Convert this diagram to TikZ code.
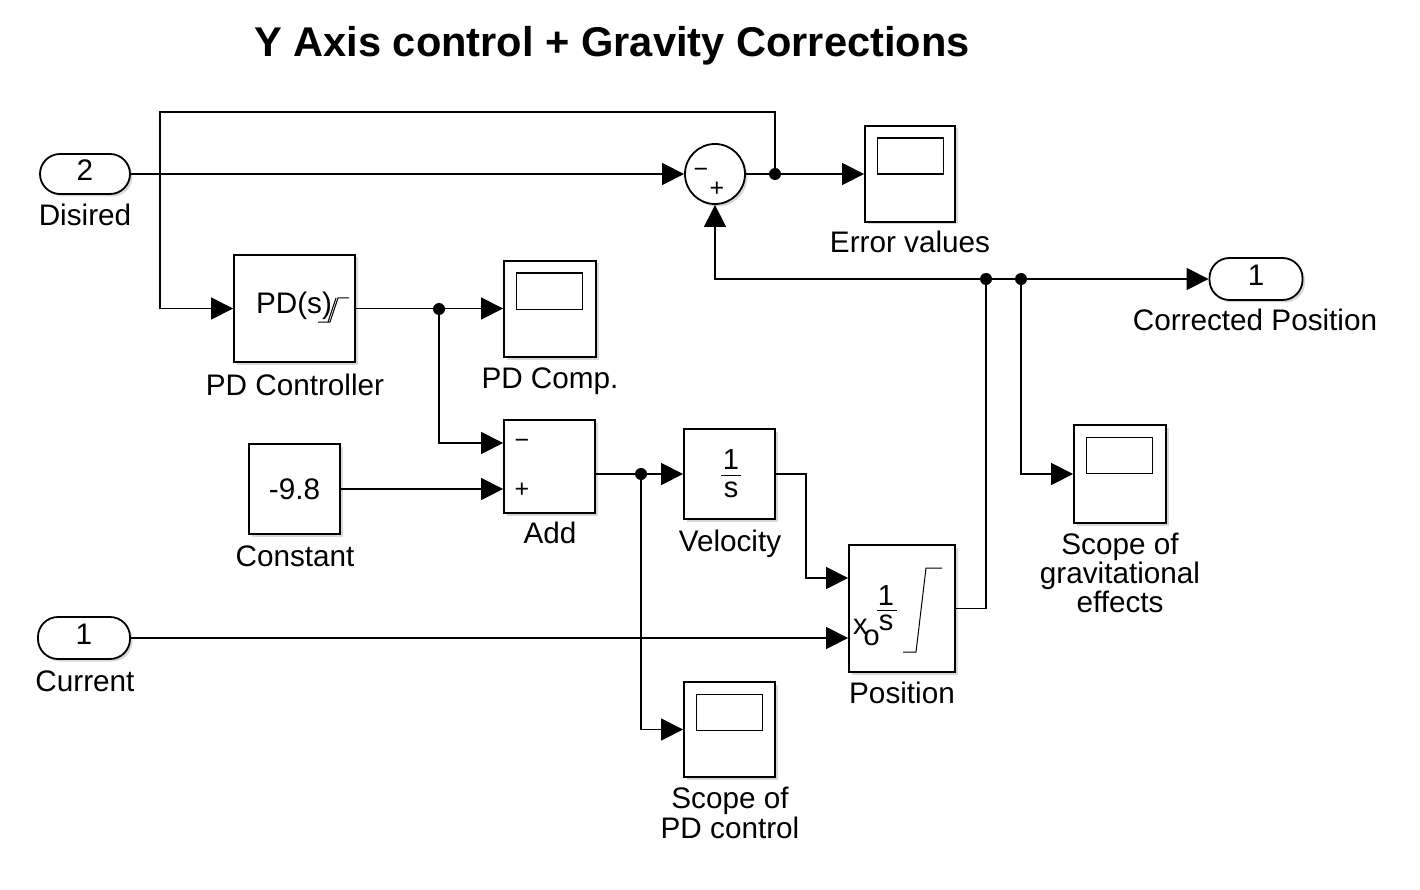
\documentclass[tikz,border=0pt]{standalone}
\usepackage{fontspec}
\setmainfont{Liberation Sans}
\usetikzlibrary{arrows.meta,shadows,calc}
\newcommand\labfont{\fontsize{29.7}{31}\selectfont}
\newcommand\ttlfont{\fontsize{41.6}{44}\selectfont\bfseries}
\newcommand\fracfont{\fontsize{29}{30}\selectfont}
\newcommand\signfont{\fontsize{25}{27}\selectfont}
\begin{document}
\begin{tikzpicture}[x=1pt,y=-1pt,
  shad/.style={drop shadow={shadow xshift=2.5pt,shadow yshift=-2.5pt,fill=black!30}},
  blk/.style={draw,line width=1.8pt,fill=white,shad,inner sep=0pt,font=\labfont},
  port/.style={blk,rounded corners=20pt,text depth=8pt},
  sumc/.style={circle,draw,line width=1.8pt,fill=white,shad,inner sep=0pt,minimum size=60pt},
  lbl/.style={font=\labfont,anchor=base,inner sep=0pt},
  frac/.style={font=\fracfont,anchor=base,inner sep=0pt},
  sgn/.style={font=\signfont,inner sep=0pt},
  line/.style={line width=1.2pt},
  sig/.style={line width=1.2pt,-{Triangle[length=22pt,width=22pt]}},
  thin/.style={line width=1pt},
  screen/.style={line width=1.2pt}]
\useasboundingbox (0,0) rectangle (1420,890);
\fill[white] (0,0) rectangle (1420,890);

% title
\node[font=\ttlfont,anchor=base,inner sep=0pt] (title) at (612,57) {Y Axis control + Gravity Corrections};

% blocks
\node[port,minimum width=90pt,minimum height=40pt] (din) at (85,174) {2};
\node[port,minimum width=92pt,minimum height=42pt] (cur) at (84,638) {1};
\node[port,minimum width=93pt,minimum height=42pt] (outp) at (1256,279) {1};
\node[sumc] (sum) at (715,174) {};
\node[blk,minimum width=90pt,minimum height=96pt] (err) at (910,174) {};
\node[blk,minimum width=121pt,minimum height=107pt] (pdc) at (294.5,308.5) {};
\node[blk,minimum width=92pt,minimum height=96pt] (pdcs) at (550,309) {};
\node[blk,minimum width=91pt,minimum height=90pt] (cnst) at (294.5,489) {-9.8};
\node[blk,minimum width=91pt,minimum height=93pt] (add) at (549.5,466.5) {};
\node[blk,minimum width=91pt,minimum height=90pt] (vel) at (729.5,474) {};
\node[blk,minimum width=106pt,minimum height=127pt] (pos) at (902,608.5) {};
\node[blk,minimum width=91pt,minimum height=95pt] (pds) at (729.5,729.5) {};
\node[blk,minimum width=92pt,minimum height=98pt] (gs) at (1120,474) {};

% scope screens
\foreach \s in {err,pdcs,pds,gs}{
  \draw[screen] ([shift={(13pt,-13pt)}]\s.north west) rectangle ++(66pt,-36pt);
}

% sum signs
\node[sgn] (sm1) at (701,173) {−};
\node[sgn] (sp1) at (717,189) {+};
% add signs
\node[sgn] (am1) at (522,444) {−};
\node[sgn] (ap1) at (522,490) {+};

% PD controller content
\node[lbl] (pdt) at (294,313) {PD(s)};
\draw[thin] (318,322) -- (330,322) -- (338,298) -- (349,298);
\draw[thin] (328,322) -- (336,298);

% velocity content
\node[frac] (v1) at (731,469) {1};
\node[frac] (vs) at (731,497) {s};
\draw[thin] (721,475) -- (741,475);

% position content
\node[frac] (p1) at (886,605) {1};
\node[frac] (ps) at (886,630) {s};
\draw[thin] (877,610) -- (897,610);
\node[lbl,font=\fracfont,anchor=base west] (pxo) at (853,634) {x\kern-4pt\raisebox{-11pt}{o}};
\draw[thin] (903,652) -- (916,652) -- (926,568) -- (942,568);

% labels
\node[lbl] (ldin) at (85,226) {Disired};
\node[lbl] (lcur) at (85,691) {Current};
\node[lbl] (lout) at (1255,330) {Corrected Position};
\node[lbl] (lerr) at (910,253) {Error values};
\node[lbl] (lpdc) at (295,395) {PD Controller};
\node[lbl] (lpdcs) at (550,388) {PD Comp.};
\node[lbl] (lcnst) at (295,566) {Constant};
\node[lbl] (ladd) at (550,543) {Add};
\node[lbl] (lvel) at (730,551) {Velocity};
\node[lbl] (lpos) at (902,703) {Position};
\node[lbl] (lpds1) at (730,808) {Scope of};
\node[lbl] (lpds2) at (730,838) {PD control};
\node[lbl] (lgs1) at (1120,554) {Scope of};
\node[lbl] (lgs2) at (1120,583) {gravitational};
\node[lbl] (lgs3) at (1120,612) {effects};

% junctions
\coordinate (j1) at (775,174);
\coordinate (j2) at (439,309);
\coordinate (j3) at (641,474);
\coordinate (j4) at (986,279);
\coordinate (j5) at (1021,279);

% connectors
\draw[sig] (din.east) -- (sum.west);
\draw[sig] (sum.east) -- (err.west);
\draw[sig] (j1) |- ++(-615,-62) |- (pdc.west);
\draw[sig] (pdc.east) -- (pdcs.west |- pdc.east);
\draw[sig] (j2) |- ([yshift=23.5pt]add.west);
\draw[sig] (cnst.east) -- (add.west |- cnst.east);
\draw[sig] (add.east |- vel.west) -- (vel.west);
\draw[sig] (j3) |- (pds.west);
\draw[sig] (vel.east) -- ++(30,0) |- ([yshift=30.5pt]pos.west);
\draw[sig] (cur.east) -- (pos.west |- cur.east);
\draw[line] (pos.east) -| (j4);
\draw[sig] (j4) -- (outp.west);
\draw[sig] (j4) -| (sum.south);
\draw[sig] (j5) |- (gs.west);

\foreach \j in {j1,j2,j3,j4,j5} \fill (\j) circle (6pt);
\end{tikzpicture}
\end{document}
